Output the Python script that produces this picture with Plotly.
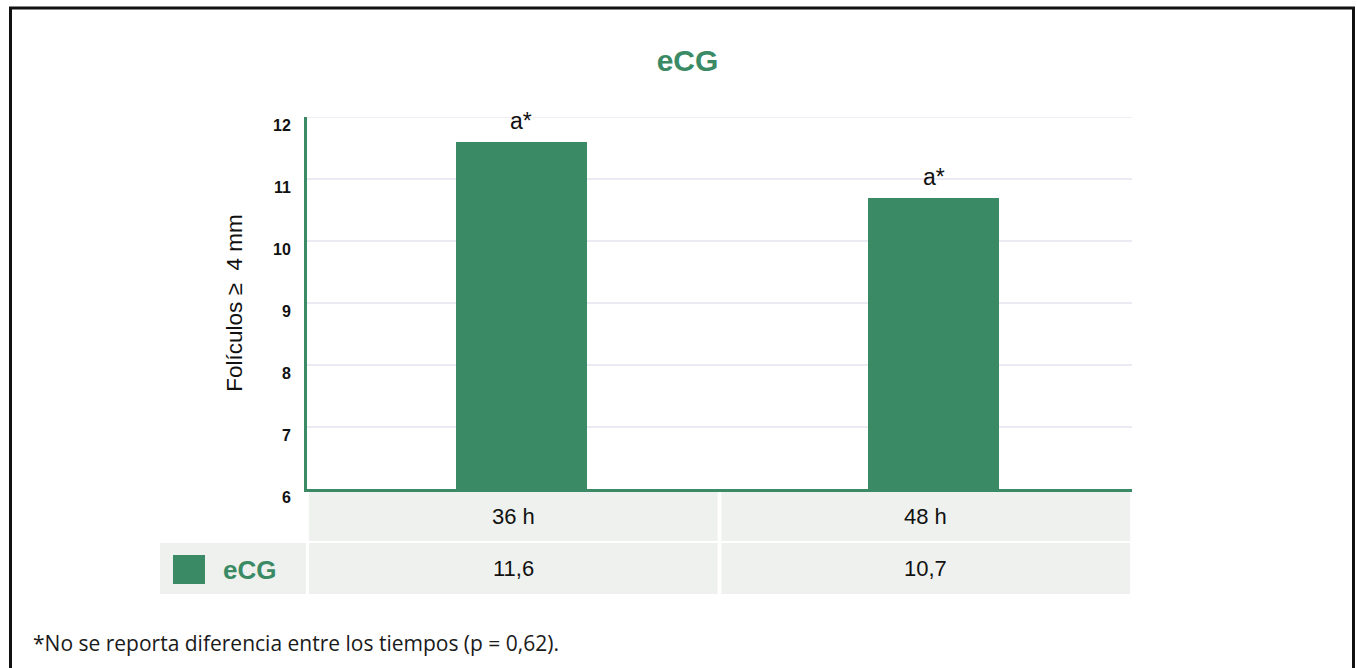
import plotly.graph_objects as go

# Data
categories = ["36 h", "48 h"]
series_name = "eCG"
values = [11.6, 10.7]
sig_labels = ["a*", "a*"]
y_ticks = [6, 7, 8, 9, 10, 11, 12]
footnote = "*No se reporta diferencia entre los tiempos (p = 0,62)."
y_title = "Folículos ≥&nbsp; 4 mm"

GREEN = "#3A8A65"
CELL = "#EFF1EE"
GRID = "#EBE9F2"
SANS = "Liberation Sans, Arial, sans-serif"

W, H = 1357, 668
L, R, T, B = 307, 225, 117, 179
PW, PH = W - L - R, H - T - B


def px_x(p):
    return (p - L) / PW


def px_y(p):
    return (H - B - p) / PH


def fmt(v):
    return f"{v:.1f}".replace(".", ",")


fig = go.Figure()
fig.add_trace(go.Bar(
    x=categories, y=values, name=series_name,
    marker=dict(color=GREEN, line=dict(width=0)),
    width=0.318, offset=-0.14,
    showlegend=False, hoverinfo="skip",
))

shapes = []
annotations = []

# top gridline at the end of the value range
shapes.append(dict(
    type="line", xref="paper", yref="y", x0=0, x1=1,
    y0=max(y_ticks), y1=max(y_ticks),
    line=dict(color=GRID, width=1.5), layer="below",
))

# significance letters above the bars
for c, v, s in zip(categories, values, sig_labels):
    annotations.append(dict(
        x=c, y=v, xref="x", yref="y", text=s, showarrow=False,
        xanchor="center", yanchor="bottom", xshift=8, yshift=6,
        font=dict(family=SANS, size=23, color="#111111"),
    ))

# data table under the plot: header row (categories) and value row
row1 = (px_y(491), px_y(541))
row2 = (px_y(543), px_y(594))
for i, (c, v) in enumerate(zip(categories, values)):
    for (y0, y1), txt in ((row1, c), (row2, fmt(v))):
        shapes.append(dict(
            type="rect", xref="x", yref="paper",
            x0=i - 0.4955, x1=i + 0.4955, y0=y1, y1=y0,
            fillcolor=CELL, line=dict(width=0), layer="below",
        ))
        annotations.append(dict(
            x=i, y=(y0 + y1) / 2, xref="x", yref="paper", text=txt,
            showarrow=False, xanchor="center", yanchor="middle",
            font=dict(family=SANS, size=22, color="#111111"),
        ))

# legend cell for the series
shapes.append(dict(
    type="rect", xref="paper", yref="paper",
    x0=px_x(160), x1=px_x(306), y0=row2[1], y1=row2[0],
    fillcolor=CELL, line=dict(width=0), layer="below",
))
shapes.append(dict(
    type="rect", xref="paper", yref="paper",
    x0=px_x(173), x1=px_x(205), y0=px_y(584), y1=px_y(555),
    fillcolor=GREEN, line=dict(width=0),
))
annotations.append(dict(
    x=px_x(249.5), y=px_y(570), xref="paper", yref="paper", text=f"<b>{series_name}</b>",
    showarrow=False, xanchor="center", yanchor="middle",
    font=dict(family=SANS, size=26, color=GREEN),
))

# outer frame
shapes.append(dict(
    type="rect", xref="paper", yref="paper",
    x0=px_x(10.5), x1=px_x(1353.5), y0=px_y(690), y1=px_y(8),
    line=dict(color="#111111", width=3), fillcolor="rgba(0,0,0,0)",
))

# footnote
annotations.append(dict(
    x=px_x(31), y=px_y(643), xref="paper", yref="paper", text=footnote,
    showarrow=False, xanchor="left", yanchor="middle",
    font=dict(family="Open Sans, Noto Sans, sans-serif", size=21, color="#1a1a1a"),
))

fig.update_layout(
    width=W, height=H,
    margin=dict(l=L, r=R, t=T, b=B, autoexpand=False),
    paper_bgcolor="white", plot_bgcolor="white",
    title=dict(
        text=f"<b>{series_name}</b>", x=687.5 / W, xref="container", xanchor="center",
        y=1 - 60 / H, yref="container", yanchor="middle",
        font=dict(family=SANS, size=30, color=GREEN),
    ),
    bargap=0,
    shapes=shapes,
    annotations=annotations,
    showlegend=False,
)

fig.update_xaxes(
    type="category", range=[-0.5, 1.5], showticklabels=False,
    showgrid=False, zeroline=False, ticks="",
    showline=True, linecolor=GREEN, linewidth=3,
)
fig.update_yaxes(
    range=[6, 12], tickvals=y_ticks, ticktext=[str(t) for t in y_ticks],
    ticks="", ticklabelshift=8, ticklabelstandoff=10,
    tickfont=dict(family=SANS, size=16, color="#111111", weight="bold"),
    showgrid=True, gridcolor=GRID, gridwidth=1.5, zeroline=False,
    showline=True, linecolor=GREEN, linewidth=3,
    title=dict(text=y_title, standoff=25, font=dict(family=SANS, size=22.5, color="#111111")),
)

fig.write_html("out.html")
